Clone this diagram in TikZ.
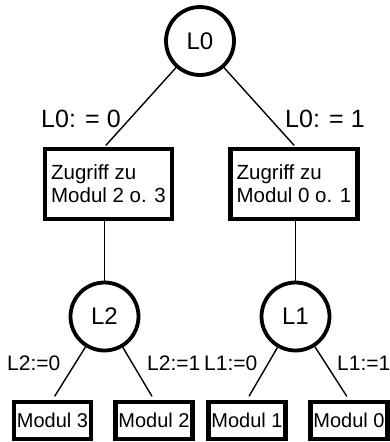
\documentclass[tikz,border=0pt]{standalone}
\usepackage{fontspec}
\setmainfont{Liberation Sans}
\begin{document}
\begin{tikzpicture}[x=1pt,y=-1pt,
  decision/.style={circle,draw,line width=3.8pt,minimum size=68pt,inner sep=0pt,font=\fontsize{24}{28}\selectfont},
  accessbox/.style={draw,line width=4.2pt,minimum width=127pt,minimum height=70pt,inner sep=0pt,align=left,font=\fontsize{20.5}{23}\selectfont},
  modbox/.style={draw,line width=4.5pt,minimum width=77pt,minimum height=37pt,inner sep=0pt,font=\fontsize{20}{24}\selectfont},
  biglabel/.style={anchor=base west,inner sep=0pt,font=\fontsize{25}{30}\selectfont},
  smalllabel/.style={anchor=base west,inner sep=0pt,font=\fontsize{21}{25}\selectfont},
  conn/.style={line width=1.4pt}]
\useasboundingbox (0,0) rectangle (389,442);
\node[decision] (L0) at (200,41) {L0};
\node[accessbox] (zl) at (108.5,184) {Zugriff zu\\Modul 2 o. 3};
\node[accessbox] (zr) at (294,184) {Zugriff zu\\Modul 0 o. 1};
\node[decision] (L2) at (104.5,316.5) {L2};
\node[decision] (L1) at (295.5,316.5) {L1};
\node[modbox] (m3) at (52.5,420.5) {Modul 3};
\node[modbox] (m2) at (154,420.5) {Modul 2};
\node[modbox] (m1) at (247,420.5) {Modul 1};
\node[modbox] (m0) at (349,420.5) {Modul 0};
\node[biglabel] (a0) at (41,127) {L0: = 0};
\node[biglabel] (a1) at (285,127) {L0: = 1};
\node[smalllabel] (b0) at (7,370) {L2:=0};
\node[smalllabel] (b1) at (147,370) {L2:=1};
\node[smalllabel] (c0) at (204,370) {L1:=0};
\node[smalllabel] (c1) at (337,370) {L1:=1};
\draw[conn,shorten >=2pt] (L0) -- (zl.north -| L2);
\draw[conn,shorten >=2pt] (L0) -- (zr.north -| L1);
\draw[conn] (zl.south -| L2) -- (L2);
\draw[conn] (zr.south -| L1) -- (L1);
\draw[conn,shorten >=4pt] (L2) -- (m3.north);
\draw[conn,shorten >=4pt] (L2) -- (m2.north);
\draw[conn,shorten >=4pt] (L1) -- (m1.north);
\draw[conn,shorten >=4pt] (L1) -- (m0.north);
\end{tikzpicture}
\end{document}
